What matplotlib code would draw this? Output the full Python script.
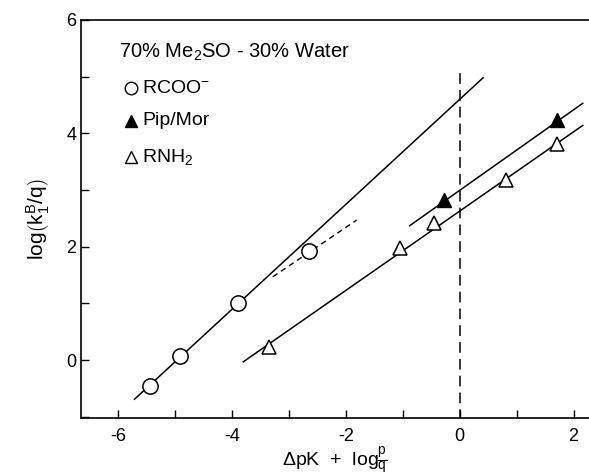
import matplotlib
matplotlib.use("Agg")
import matplotlib.pyplot as plt

plt.rcParams["font.family"] = ["Liberation Sans", "DejaVu Sans"]
plt.rcParams["mathtext.fontset"] = "custom"
plt.rcParams["mathtext.rm"] = "Liberation Sans"
plt.rcParams["mathtext.it"] = "Liberation Sans"

# data
rcoo_x = [-5.43, -4.91, -3.89, -2.65]
rcoo_y = [-0.45, 0.07, 1.01, 1.93]
pip_x = [-0.28, 1.71]
pip_y = [2.82, 4.23]
rnh2_x = [-3.35, -1.04, -0.45, 0.81, 1.70]
rnh2_y = [0.23, 1.97, 2.41, 3.17, 3.82]

# fitted lines (end points)
rcoo_fit_x = [-5.71, 0.41]
rcoo_fit_y = [-0.69, 4.98]
rcoo_dash_x = [-3.28, -1.81]
rcoo_dash_y = [1.47, 2.47]
pip_fit_x = [-0.88, 2.16]
pip_fit_y = [2.37, 4.53]
rnh2_fit_x = [-3.80, 2.16]
rnh2_fit_y = [-0.03, 4.14]

fig = plt.figure(figsize=(5.89, 4.76), dpi=100)
ax = fig.add_axes([0.1375, 0.122, 0.8625, 0.836])

ax.plot(rcoo_fit_x, rcoo_fit_y, color="k", lw=1.1)
ax.plot(rcoo_dash_x, rcoo_dash_y, color="k", lw=1.0, ls=(0, (4, 3)))
ax.plot(pip_fit_x, pip_fit_y, color="k", lw=1.1)
ax.plot(rnh2_fit_x, rnh2_fit_y, color="k", lw=1.1)
ax.plot([0, 0], [-1.05, 5.15], color="k", lw=1.1, ls=(0, (7, 4)))

ax.plot(rcoo_x, rcoo_y, "o", ms=11, mfc="white", mec="k", mew=1.1, zorder=5)
ax.plot(pip_x, pip_y, "^", ms=10, mfc="k", mec="k", zorder=5)
ax.plot(rnh2_x, rnh2_y, "^", ms=10, mfc="white", mec="k", mew=1.1, zorder=5)

ax.set_xlim(-6.65, 2.27)
ax.set_ylim(-1.02, 6.0)
ax.set_xticks([-6, -4, -2, 0, 2])
ax.set_xticks([-5, -3, -1, 1], minor=True)
ax.set_yticks([0, 2, 4, 6])
ax.set_yticks([-1, 1, 3, 5], minor=True)
ax.set_xticklabels(["-6", "-4", "-2", "0", "2"])
ax.tick_params(which="both", direction="in", length=6, width=1.0, labelsize=13)
ax.tick_params(axis="x", pad=7)
ax.spines["right"].set_visible(False)
for s in ["left", "bottom", "top"]:
    ax.spines[s].set_linewidth(1.2)

ax.text(-5.98, 5.43, r"70% Me$_2$SO - 30% Water", fontsize=14.5, va="center")
ax.plot([-5.77], [4.8], "o", ms=9, mfc="white", mec="k", mew=1.0)
ax.text(-5.57, 4.8, r"RCOO$^{-}$", fontsize=14, va="center")
ax.plot([-5.77], [4.22], "^", ms=9, mfc="k", mec="k")
ax.text(-5.57, 4.22, "Pip/Mor", fontsize=14, va="center")
ax.plot([-5.77], [3.58], "^", ms=9, mfc="white", mec="k", mew=1.0)
ax.text(-5.57, 3.58, r"RNH$_2$", fontsize=14, va="center")

ax.set_ylabel(r"log$\left(\mathrm{k}_1^{\mathrm{B}}/\mathrm{q}\right)$", fontsize=15, labelpad=10)
ax.set_xlabel(r"$\Delta$pK  +  log$\mathrm{\frac{p}{q}}$", fontsize=14, labelpad=0)

fig.savefig("out.png", dpi=100)
